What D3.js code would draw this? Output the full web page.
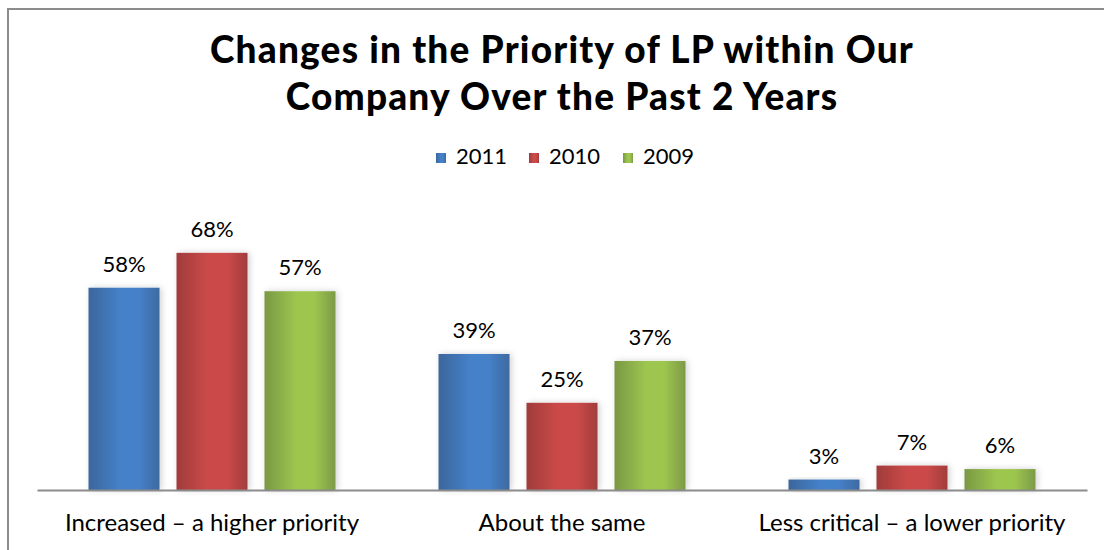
<!DOCTYPE html>
<meta charset="utf-8">
<script src="https://d3js.org/d3.v7.min.js"></script>
<style type="text/css">
    body { margin: 0; background: #fff; }
    text { font-family: Lato, "Open Sans", sans-serif; fill: #000; }
    .title { font-weight: 900; font-size: 37px; letter-spacing: 1.2px; }
    .label { font-size: 22px; }
    .axis path, .axis line { fill: none; stroke: #8c8c8c; stroke-width: 2; }
</style>
<body>
<script>
    var categories = ["Increased \u2013 a higher priority", "About the same", "Less critical \u2013 a lower priority"];
    var years = ["2011", "2010", "2009"];
    var values2011 = [58, 39, 3];
    var values2010 = [68, 25, 7];
    var values2009 = [57, 37, 6];
    var titleLines = ["Changes in the Priority of LP within Our", "Company Over the Past 2 Years"];

    var series = [values2011, values2010, values2009];
    var colors = [
        ["#3c669c", "#4581c9", "#3e6aa0"],
        ["#a03c3c", "#cc4a48", "#a23d3c"],
        ["#7a9843", "#9dc650", "#7d9a46"]
    ];

    var width = 1104, height = 550;
    var margin = {left: 37, right: 17, top: 211, bottom: 60};
    var groupWidth = 247;

    var svg = d3.select("body")
        .append("svg")
        .attr("width", width)
        .attr("height", height);

    var defs = svg.append("defs");
    colors.forEach(function(c, i){
        var g = defs.append("linearGradient")
            .attr("id", "grad" + i)
            .attr("x1", "0%").attr("x2", "100%")
            .attr("y1", "0%").attr("y2", "0%");
        g.append("stop").attr("offset", "0%").attr("stop-color", c[0]);
        g.append("stop").attr("offset", "45%").attr("stop-color", c[1]);
        g.append("stop").attr("offset", "70%").attr("stop-color", c[1]);
        g.append("stop").attr("offset", "100%").attr("stop-color", c[2]);
    });
    var filter = defs.append("filter").attr("id", "shadow")
        .attr("x", "-20%").attr("y", "-20%").attr("width", "140%").attr("height", "140%");
    filter.append("feDropShadow").attr("dx", 2).attr("dy", 0).attr("stdDeviation", 3)
        .attr("flood-color", "#000").attr("flood-opacity", 0.18);

    // outer frame (cut off right and bottom)
    svg.append("path")
        .attr("d", "M8,560 L8,9 L1110,9")
        .attr("fill", "none")
        .attr("stroke", "#8c8c8c")
        .attr("stroke-width", 2);

    var x0 = d3.scaleBand()
        .domain(categories)
        .range([margin.left, width - margin.right]);

    var x1 = d3.scaleBand()
        .domain(years)
        .range([0, groupWidth])
        .paddingInner(0.193);

    var y = d3.scaleLinear()
        .domain([0, 80])
        .range([height - margin.bottom, margin.top]);

    // title
    svg.append("text")
        .attr("class", "title")
        .attr("text-anchor", "middle")
        .attr("x", 562)
        .attr("y", 63)
        .selectAll("tspan")
        .data(titleLines)
        .enter()
        .append("tspan")
        .attr("x", 562)
        .attr("dy", function(d, i){ return i === 0 ? 0 : 47; })
        .text(function(d){ return d; });

    // legend
    var legendX = [436, 529, 623];
    var legend = svg.selectAll(".legend")
        .data(years)
        .enter()
        .append("g")
        .attr("class", "legend")
        .attr("transform", function(d, i){ return "translate(" + legendX[i] + ",153)"; });
    legend.append("rect")
        .attr("width", 10)
        .attr("height", 10)
        .attr("fill", function(d, i){ return "url(#grad" + i + ")"; });
    legend.append("text")
        .attr("class", "label")
        .attr("x", 20)
        .attr("y", 11)
        .text(function(d){ return d; });

    // bars
    var groups = svg.selectAll(".group")
        .data(categories)
        .enter()
        .append("g")
        .attr("class", "group")
        .attr("transform", function(d){
            return "translate(" + (x0(d) + (x0.bandwidth() - groupWidth) / 2) + ",0)";
        });

    function rows(d, ci){
        return years.map(function(yr, si){ return {year: yr, s: si, v: series[si][ci]}; });
    }

    groups.selectAll("rect")
        .data(rows)
        .enter()
        .append("rect")
        .attr("x", function(d){ return x1(d.year); })
        .attr("y", function(d){ return y(d.v); })
        .attr("width", x1.bandwidth())
        .attr("height", function(d){ return y(0) - y(d.v); })
        .attr("fill", function(d){ return "url(#grad" + d.s + ")"; })
        .attr("filter", "url(#shadow)");

    groups.selectAll(".value")
        .data(rows)
        .enter()
        .append("text")
        .attr("class", "label value")
        .attr("text-anchor", "middle")
        .attr("x", function(d){ return x1(d.year) + x1.bandwidth() / 2; })
        .attr("y", function(d){ return y(d.v) - 16; })
        .text(function(d){ return d.v + "%"; });

    // x axis
    var axis = svg.append("g")
        .attr("class", "axis")
        .attr("transform", "translate(0," + y(0) + ")")
        .call(d3.axisBottom(x0).tickSize(0).tickSizeOuter(0).tickPadding(0));
    axis.selectAll("text")
        .attr("class", "label")
        .attr("dy", 0)
        .attr("y", 41)
        .style("font-size", "24px")
        .style("font-family", "Lato, sans-serif")
        .attr("fill", "#000");
    axis.select(".domain").attr("stroke", "#8c8c8c");
</script>
</body>
